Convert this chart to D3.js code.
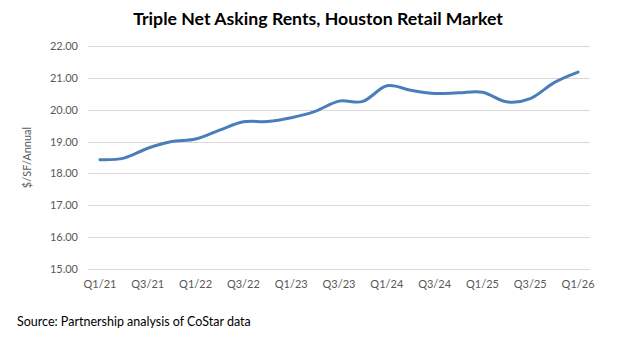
<!DOCTYPE html>
<html>
<head>
<meta charset="utf-8">
<script src="https://cdn.jsdelivr.net/npm/d3@7"></script>
<style>
  body { margin: 0; background: #fff; }
  text { font-family: Lato, "Open Sans", sans-serif; }
</style>
</head>
<body>
<script>
// quarterly asking rents, $/SF/Annual
const quarters = ["Q1/21","Q2/21","Q3/21","Q4/21","Q1/22","Q2/22","Q3/22","Q4/22",
  "Q1/23","Q2/23","Q3/23","Q4/23","Q1/24","Q2/24","Q3/24","Q4/24",
  "Q1/25","Q2/25","Q3/25","Q4/25","Q1/26"];
const rents = [18.43, 18.48, 18.79, 19.00, 19.08, 19.36, 19.62, 19.63,
  19.75, 19.95, 20.27, 20.26, 20.75, 20.61, 20.51, 20.53,
  20.55, 20.25, 20.35, 20.85, 21.18];
const yTicks = [15, 16, 17, 18, 19, 20, 21, 22];
const xLabels = quarters.filter((q, i) => i % 2 === 0);

const W = 644, H = 354;
const margin = { top: 46, right: 54, bottom: 85, left: 88 };
const width = W - margin.left - margin.right;
const height = H - margin.top - margin.bottom;

const svg = d3.select("body").append("svg")
  .attr("width", W)
  .attr("height", H);

svg.append("text")
  .attr("x", 318)
  .attr("y", 25)
  .attr("text-anchor", "middle")
  .style("font-size", "17.7px")
  .style("font-weight", "bold")
  .attr("fill", "#000")
  .text("Triple Net Asking Rents, Houston Retail Market");

const g = svg.append("g")
  .attr("transform", `translate(${margin.left},${margin.top})`);

const x = d3.scaleBand().domain(quarters).range([0, width]);
const y = d3.scaleLinear().domain([15, 22]).range([height, 0]);

// gridlines
g.append("g")
  .selectAll("line")
  .data(yTicks)
  .join("line")
  .attr("x1", 0)
  .attr("x2", width)
  .attr("y1", d => Math.round(y(d)) + 0.5)
  .attr("y2", d => Math.round(y(d)) + 0.5)
  .attr("stroke", "#d9d9d9")
  .attr("stroke-width", 1);

const yAxis = g.append("g")
  .call(d3.axisLeft(y).tickValues(yTicks).tickFormat(d3.format(".2f")).tickSize(0).tickPadding(10));
yAxis.select(".domain").remove();
yAxis.selectAll("text")
  .style("font-size", "11px")
  .style("font-family", "Lato, 'Open Sans', sans-serif")
  .attr("fill", "#595959");

const xAxis = g.append("g")
  .attr("transform", `translate(0,${height})`)
  .call(d3.axisBottom(x).tickValues(xLabels).tickSize(0).tickPadding(11));
xAxis.select(".domain").remove();
xAxis.selectAll("text")
  .style("font-size", "11px")
  .style("font-family", "Lato, 'Open Sans', sans-serif")
  .attr("fill", "#595959");

svg.append("text")
  .attr("transform", `translate(31,${margin.top + height / 2}) rotate(-90)`)
  .attr("text-anchor", "middle")
  .style("font-size", "11px")
  .attr("fill", "#595959")
  .text("$/SF/Annual");

const line = d3.line()
  .x((d, i) => x(quarters[i]) + x.bandwidth() / 2)
  .y(d => y(d))
  .curve(d3.curveCardinal.tension(0));

g.append("path")
  .datum(rents)
  .attr("fill", "none")
  .attr("stroke", "#4a7ebb")
  .attr("stroke-width", 3)
  .attr("stroke-linecap", "round")
  .attr("d", line);

svg.append("text")
  .attr("x", 17)
  .attr("y", 326)
  .style("font-size", "12.5px")
  .attr("fill", "#000")
  .text("Source: Partnership analysis of CoStar data");
</script>
</body>
</html>
